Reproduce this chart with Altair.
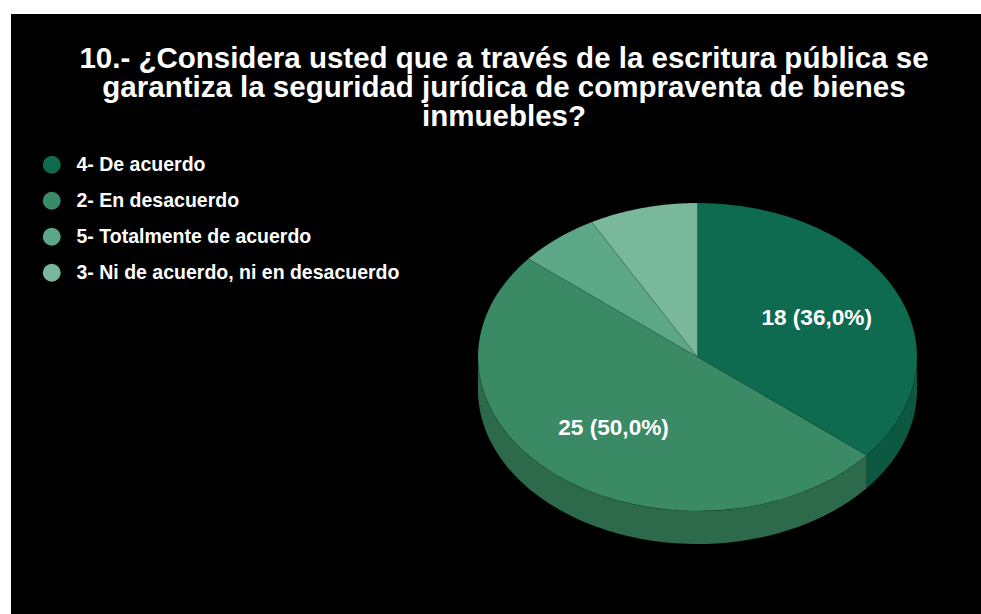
import numpy as np
import pandas as pd
import altair as alt

# Survey answers, in the order the slices run clockwise from 12 o'clock
categories = [
    "4- De acuerdo",
    "2- En desacuerdo",
    "5- Totalmente de acuerdo",
    "3- Ni de acuerdo, ni en desacuerdo",
]
counts = [18, 25, 3, 4]

# Top-face and side-wall colours for each answer
face_colors = ["#0f6b4f", "#3a8a66", "#5ba787", "#79b89b"]
wall_colors = ["#0c5840", "#2d6a4c", "#467f66", "#5e8f78"]

title_lines = [
    "10.- ¿Considera usted que a través de la escritura pública se",
    "garantiza la seguridad jurídica de compraventa de bienes",
    "inmuebles?",
]

# Layout of the tilted pie: the unit circle is squashed into an ellipse
# by giving the x and y scales different pixel sizes per unit.
W, H = 970, 600
CX, CY = 686.5, 343.0      # pie centre inside the plot area (px)
RX, RY = 219.5, 154.0      # pixels per unit along x and y
DEPTH = 33.0 / RY          # thickness of the disc, in y units
LABEL_R = 0.6
STEPS = 90

x_dom = [-CX / RX, (W - CX) / RX]
y_dom = [-(H - CY) / RY, CY / RY]

total = sum(counts)
ends = np.cumsum(counts) / total * 2 * np.pi
starts = ends - np.array(counts) / total * 2 * np.pi

# Top-face sectors: centre -> arc -> centre, drawn as closed filled paths
face_rows = []
for cat, a0, a1 in zip(categories, starts, ends):
    for i in range(-1, STEPS + 2):
        r = 0.0 if (i < 0 or i > STEPS) else 1.0
        t = a0 + (a1 - a0) * min(max(i, 0), STEPS) / STEPS
        face_rows.append({"category": cat, "i": i,
                          "x": r * np.sin(t), "y": r * np.cos(t)})
faces = pd.DataFrame(face_rows)

# Visible front wall: the part of each slice's rim facing the viewer
wall_rows = []
for cat, col, a0, a1 in zip(categories, wall_colors, starts, ends):
    lo, hi = max(a0, np.pi / 2), min(a1, 3 * np.pi / 2)
    if hi <= lo:
        continue
    for k in range(STEPS + 1):
        t = lo + (hi - lo) * k / STEPS
        wall_rows.append({"category": cat, "wall": col,
                          "x": np.sin(t), "y": np.cos(t),
                          "y2": np.cos(t) - DEPTH})
walls = pd.DataFrame(wall_rows)

# Value labels at the middle of the larger slices
label_rows = []
for cat, n, a0, a1 in zip(categories, counts, starts, ends):
    if n / total < 0.1:
        continue
    m = (a0 + a1) / 2
    pct = f"{n / total * 100:.1f}".replace(".", ",")
    label_rows.append({"category": cat, "x": LABEL_R * np.sin(m),
                       "y": LABEL_R * np.cos(m), "text": f"{n} ({pct}%)"})
labels = pd.DataFrame(label_rows)

xs = alt.Scale(domain=x_dom, nice=False, zero=False)
ys = alt.Scale(domain=y_dom, nice=False, zero=False)

wall_layer = alt.Chart(walls).mark_area(strokeWidth=0).encode(
    x=alt.X("x:Q", scale=xs, axis=None),
    y=alt.Y("y:Q", scale=ys, axis=None),
    y2="y2:Q",
    fill=alt.Fill("wall:N", scale=None),
)

face_layer = alt.Chart(faces).mark_line(
    stroke="#000000", strokeOpacity=0.12, strokeWidth=0.8
).encode(
    x=alt.X("x:Q", scale=xs, axis=None),
    y=alt.Y("y:Q", scale=ys, axis=None),
    order=alt.Order("i:Q"),
    fill=alt.Fill(
        "category:N",
        scale=alt.Scale(domain=categories, range=face_colors),
        sort=categories,
        legend=alt.Legend(
            title=None,
            orient="none",
            legendX=31,
            legendY=141,
            direction="vertical",
            symbolType="circle",
            symbolSize=324,
            symbolStrokeWidth=0,
            labelColor="white",
            labelFont="Liberation Sans",
            labelFontWeight="bold",
            labelFontSize=19.5,
            labelOffset=15,
            labelLimit=600,
            rowPadding=15,
            padding=0,
        ),
    ),
)

label_layer = alt.Chart(labels).mark_text(
    color="white", font="Liberation Sans", fontWeight="bold", fontSize=22.6,
    align="center", baseline="middle",
).encode(
    x=alt.X("x:Q", scale=xs, axis=None),
    y=alt.Y("y:Q", scale=ys, axis=None),
    text="text:N",
)

chart = alt.layer(wall_layer, face_layer, label_layer).properties(
    width=W,
    height=H,
    padding={"left": 11, "top": 14, "right": 0, "bottom": 0},
    background="white",
    title=alt.Title(
        title_lines,
        color="white",
        font="Liberation Sans",
        fontSize=29.5,
        fontWeight="bold",
        lineHeight=29,
        anchor="middle",
        baseline="top",
        dx=8,
        offset=-118,
    ),
).configure_view(fill="black", stroke=None)

chart.save("out.html", embed_options={"renderer": "svg", "actions": False})
